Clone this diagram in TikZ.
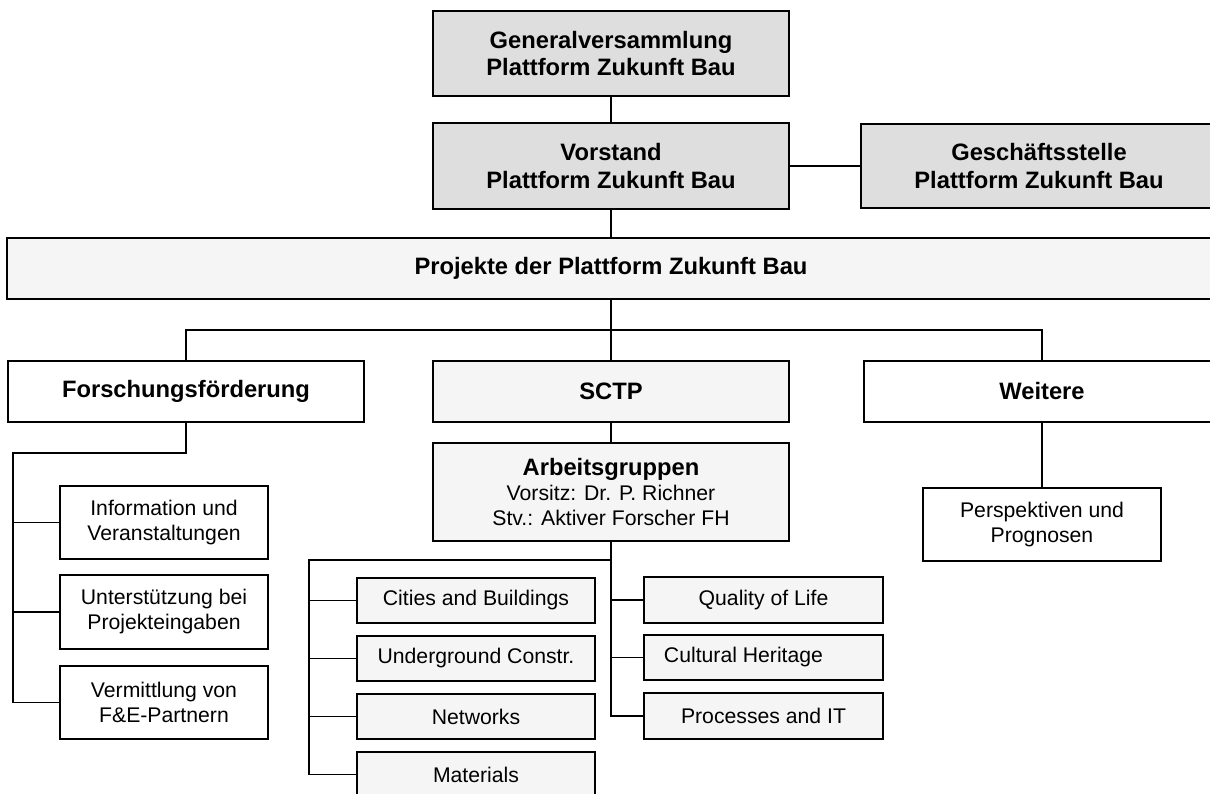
\documentclass[tikz,border=0pt]{standalone}
\usepackage{fontspec}
\setmainfont{Liberation Sans}
\begin{document}
\begin{tikzpicture}[x=0.75pt,y=-0.75pt,
  box/.style={draw=black, line width=1.6pt, inner sep=0pt, align=center},
  sz/.style 2 args={minimum width={#1*0.75pt}, minimum height={#2*0.75pt}},
  dark/.style={box, fill=black!13},
  light/.style={box, fill=black!4},
  plain/.style={box, fill=white},
  bt/.style={font=\fontsize{17.8pt}{20.3pt}\selectfont\bfseries},
  rt/.style={font=\fontsize{15.9pt}{18.75pt}\selectfont},
  conn/.style={line width=1.35pt},
  trunk/.style={line width=2pt}]
\useasboundingbox (0,0) rectangle (1210,793);

% top level
\node[dark, bt, sz={356}{85}] (gv) at (611,53.5) {Generalversammlung\\Plattform Zukunft Bau};
\node[dark, bt, sz={356}{86}] (vs) at (611,166) {Vorstand\\Plattform Zukunft Bau};
\node[dark, bt, sz={356}{84}] (gs) at (1039,166) {Geschäftsstelle\\Plattform Zukunft Bau};
\node[light, bt, sz={1208}{61}] (pr) at (611,268.5) {Projekte der Plattform Zukunft Bau};

% second level
\node[plain, bt, sz={356}{61}] (ff) at (186,391.5) {Forschungsförderung};
\node[light, bt, sz={356}{61}] (sc) at (611,391.5) {SCTP};
\node[plain, bt, sz={356}{61}] (we) at (1042,391.5) {Weitere};

% Forschungsfoerderung children
\node[plain, rt, sz={208}{73}] (i1) at (164,522.5) {Information und\\Veranstaltungen};
\node[plain, rt, sz={208}{74}] (i2) at (164,612) {Unterstützung bei\\Projekteingaben};
\node[plain, rt, sz={208}{73}] (i3) at (164,702.5) {Vermittlung von\\F\&E-Partnern};

% SCTP children
\node[light, rt, sz={356}{98}] (ag) at (611,492) {{\bfseries\fontsize{17.8pt}{18.75pt}\selectfont Arbeitsgruppen}\\Vorsitz: Dr. P. Richner\\Stv.: Aktiver Forscher FH};
\node[light, rt, sz={238}{45}] (m1) at (476,600.5) {Cities and Buildings};
\node[light, rt, sz={238}{45}] (m2) at (476,658.5) {Underground Constr.};
\node[light, rt, sz={238}{45}] (m3) at (476,716.5) {Networks};
\node[light, rt, sz={238}{45}] (m4) at (476,774.5) {Materials};
\node[light, rt, sz={239}{46}] (r1) at (763.5,600) {Quality of Life};
\node[light, rt, sz={239}{45}] (r2) at (763.5,657.5) {Cultural Heritage\hspace*{30pt}};
\node[light, rt, sz={239}{46}] (r3) at (763.5,716) {Processes and IT};

% Weitere child
\node[plain, rt, sz={238}{73}] (pp) at (1042,524.5) {Perspektiven und\\Prognosen};

% connectors top
\draw[conn] (gv.south) -- (vs.north);
\draw[conn] (vs.east) -- (gs.west);
\draw[conn] (vs.south) -- (pr.north);
\coordinate (bus) at (611,330);
\draw[conn] (pr.south) -- (bus);
\draw[conn] (ff.north) |- (bus) -| (we.north);
\draw[conn] (bus) -- (sc.north);

% Forschungsfoerderung subtree
\coordinate (fl) at (13,453);
\draw[conn] (ff.south) |- (fl) -- (fl |- i3.west) -- (i3.west);
\draw[conn] (fl |- i1.west) -- (i1.west);
\draw[conn] (fl |- i2.west) -- (i2.west);

% SCTP subtree
\draw[conn] (sc.south) -- (ag.north);
\coordinate (al) at (309,560);
\draw[trunk] (ag.south) -- (ag.south |- r3.west) -- (r3.west);
\draw[conn] (ag.south |- al) -- (al) -- (al |- m4.west) -- (m4.west);
\draw[conn] (al |- m1.west) -- (m1.west);
\draw[conn] (al |- m2.west) -- (m2.west);
\draw[conn] (al |- m3.west) -- (m3.west);
\draw[conn] (ag.south |- r1.west) -- (r1.west);
\draw[conn] (ag.south |- r2.west) -- (r2.west);

% Weitere subtree
\draw[conn] (we.south) -- (pp.north);
\end{tikzpicture}
\end{document}
